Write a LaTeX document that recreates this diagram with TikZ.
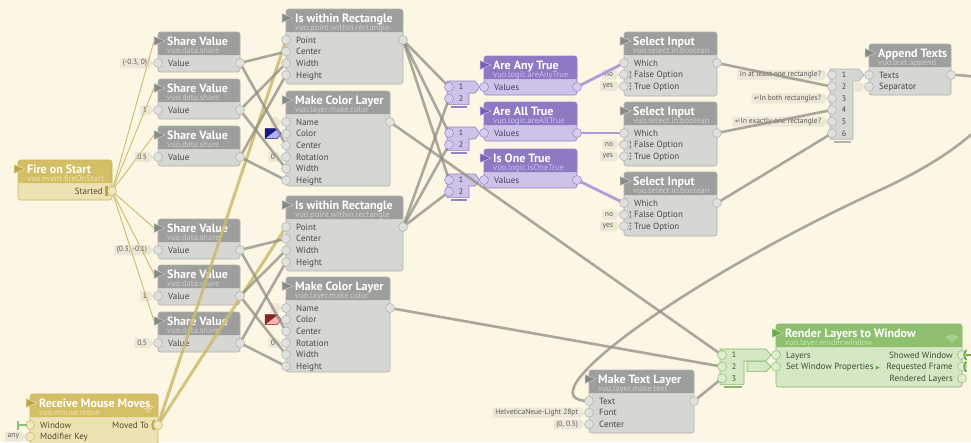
\documentclass[tikz,border=0pt]{standalone}
\usepackage{fontspec}
\setmainfont{PT Sans}
\newfontfamily\djv{DejaVu Sans}
\usetikzlibrary{shapes.symbols}
\pgfdeclarelayer{bg}
\pgfdeclarelayer{fg}
\pgfsetlayers{bg,main,fg}
\definecolor{paper}{RGB}{252,246,228}
% gray palette
\definecolor{grT}{RGB}{158,158,156}\definecolor{grB}{RGB}{214,214,211}\definecolor{grD}{RGB}{178,178,175}
\definecolor{grS}{RGB}{204,204,202}\definecolor{grR}{RGB}{136,136,134}\definecolor{grP}{RGB}{224,224,222}
\definecolor{grQ}{RGB}{176,176,174}\definecolor{grL}{RGB}{72,72,70}
% gold palette
\definecolor{goT}{RGB}{212,191,102}\definecolor{goB}{RGB}{237,227,178}\definecolor{goD}{RGB}{200,180,95}
\definecolor{goS}{RGB}{240,228,172}\definecolor{goR}{RGB}{188,166,74}\definecolor{goP}{RGB}{240,232,190}
\definecolor{goQ}{RGB}{200,180,100}\definecolor{goL}{RGB}{80,74,50}
% purple palette
\definecolor{puT}{RGB}{142,121,195}\definecolor{puB}{RGB}{205,195,232}\definecolor{puD}{RGB}{150,130,200}
\definecolor{puS}{RGB}{204,192,240}\definecolor{puR}{RGB}{118,96,180}\definecolor{puP}{RGB}{214,204,240}
\definecolor{puQ}{RGB}{150,132,200}\definecolor{puL}{RGB}{70,60,100}
% green palette
\definecolor{gnT}{RGB}{142,192,112}\definecolor{gnB}{RGB}{212,232,198}\definecolor{gnD}{RGB}{134,184,102}
\definecolor{gnS}{RGB}{200,228,180}\definecolor{gnR}{RGB}{108,168,78}\definecolor{gnP}{RGB}{222,238,208}
\definecolor{gnQ}{RGB}{140,190,110}\definecolor{gnL}{RGB}{60,80,50}
% wires and constants
\definecolor{vwire}{RGB}{145,142,128}
\definecolor{vpwire}{RGB}{176,156,216}
\definecolor{vgwire}{RGB}{204,188,108}
\definecolor{cfill}{RGB}{236,231,214}
\definecolor{ctext}{RGB}{92,92,88}

\tikzset{
  wire/.style={draw=vwire, line width=2.6pt, draw opacity=0.75},
  pwire/.style={draw=vpwire, line width=2.8pt},
  gwire/.style={draw=vgwire, line width=3pt, draw opacity=0.85},
  twire/.style={draw=vgwire, line width=0.9pt},
  cstbox/.style={signal, signal to=east, signal pointer angle=100, fill=cfill,
     text=ctext, font=\fontsize{7.5}{8}\selectfont, inner xsep=2.5pt, inner ysep=1.2pt,
     minimum height=10pt},
}

% node body: name, x, y, w, h, palette, title, subtitle
\newcommand{\vbody}[8]{%
\begin{pgfonlayer}{bg}
\begin{scope}[shift={(#2,#3)}]
\fill[#6B, rounded corners=2.5pt] (0,0) rectangle (#4,#5);
\fill[#6T, rounded corners=2.5pt] (0,0) rectangle (#4,23);
\fill[#6T] (0,12) rectangle (#4,23);
\draw[#6D, line width=0.6pt, rounded corners=2.5pt] (0,0) rectangle (#4,#5);
\node[inner sep=0, minimum width=#4pt, minimum height=#5pt, anchor=north west] (#1) at (0,0) {};
\node[anchor=base west, inner sep=0, text=white, font=\bfseries\fontsize{12}{12}\selectfont] (#1-title) at (9,13) {#7};
\node[anchor=base west, inner sep=0, text=#6S, font=\fontsize{8.5}{8.5}\selectfont] (#1-sub) at (9,21) {#8};
\fill[#6R, draw=#6S, line width=0.5pt] (-4,4.5) -- (7,9) -- (-4,13.5) -- cycle;
\coordinate (#1-trig) at (-4,9);
\end{scope}
\end{pgfonlayer}}

% input port: [palette] name, x, y, label
\newcommand{\inp}[5][gr]{%
\coordinate (#2) at (#3,#4);
\begin{pgfonlayer}{bg}\node[anchor=base west, inner sep=0, text=#1L] (#2-lbl) at (#3+10,#4+3.2) {#5};\end{pgfonlayer}
\begin{pgfonlayer}{fg}\fill[#1P, draw=#1Q, line width=0.5pt] (#3,#4) circle[radius=4.5pt];\end{pgfonlayer}}

% output port
\newcommand{\outp}[5][gr]{%
\coordinate (#2) at (#3,#4);
\begin{pgfonlayer}{bg}\node[anchor=base east, inner sep=0, text=#1L] (#2-lbl) at (#3-9,#4+3.2) {#5};\end{pgfonlayer}
\begin{pgfonlayer}{fg}\fill[#1P, draw=#1Q, line width=0.5pt] (#3,#4) circle[radius=4.5pt];\end{pgfonlayer}}

% constant flag: port x, y, text
\newcommand{\cst}[3]{\begin{pgfonlayer}{bg}\node[cstbox, anchor=east] at (#1-4,#2) {#3};\end{pgfonlayer}}
\newcommand{\ecst}[2]{\begin{pgfonlayer}{bg}\node[cstbox, anchor=east, minimum width=11pt] at (#1-4,#2) {};\end{pgfonlayer}}

% colour swatch: port x, y, dark, light
\newcommand{\swatch}[4]{\begin{pgfonlayer}{bg}
\fill[#4, draw=#3, line width=0.5pt] (#1-21,#2-5) -- (#1-9,#2-5) -- (#1-4.5,#2) -- (#1-9,#2+5) -- (#1-21,#2+5) -- cycle;
\fill[#3] (#1-21,#2-5) -- (#1-8,#2-5) -- (#1-21,#2+5) -- cycle;
\end{pgfonlayer}}

% list drawer: [palette] name, x(circle), y(item 1), n, right edge, tip
\newcommand{\drawer}[7][pu]{%
\pgfmathsetmacro\yb{#4+(#5-1)*11.65+6}
\begin{pgfonlayer}{bg}
\fill[#1B, draw=#1D, line width=0.6pt] (#3-2,#4-6) -- (#7-5,#4-6) -- (#7,#4) -- (#7-5,#4+6) -- (#6,#4+6) -- (#6,\yb) -- (#3-2,\yb) -- cycle;
\fill[#1D] (#3+2,\yb+1.5) rectangle (#6-2,\yb+3.5);
\foreach \i in {1,...,#5}{\node[font=\fontsize{8}{8}\selectfont, text=#1L, inner sep=0] at (#3+12,#4+\i*11.65-11.65) {\i};}
\end{pgfonlayer}
\begin{pgfonlayer}{fg}
\foreach \i in {1,...,#5}{\fill[#1P, draw=#1Q, line width=0.5pt] (#3,#4+\i*11.65-11.65) circle[radius=4.5pt];
\coordinate (#2-\i) at (#3,#4+\i*11.65-11.65);}
\end{pgfonlayer}}

% wifi icon
\newcommand{\wifi}[3]{\begin{pgfonlayer}{bg}
\foreach \r in {3,5.5,8}{\draw[#3, line width=0.8pt] (#1-0.7*\r,#2-0.55*\r) .. controls (#1-0.3*\r,#2-0.85*\r) and (#1+0.3*\r,#2-0.85*\r) .. (#1+0.7*\r,#2-0.55*\r);}
\fill[#3] (#1,#2) circle[radius=0.9pt];
\end{pgfonlayer}}

\begin{document}
\begin{tikzpicture}[x=1pt,y=-1pt,font=\fontsize{9}{9}\selectfont]
\useasboundingbox (0,0) rectangle (971,442);
\begin{pgfonlayer}{bg}\fill[paper] (0,0) rectangle (971,442);\end{pgfonlayer}

% ---------- Fire on Start
\vbody{fos}{18}{160}{94}{40}{go}{Fire on Start}{vuo.event.fireOnStart}
\outp[go]{fos-started}{112}{191}{Started}
\begin{pgfonlayer}{fg}\fill[goR] (105,186) rectangle (108,196);\end{pgfonlayer}

% ---------- Share Values
\vbody{sv1}{158}{32}{82}{40}{gr}{Share Value}{vuo.data.share}
\inp{sv1-in}{158}{63}{Value}\outp{sv1-out}{240}{63}{}\cst{158}{63}{(-0.3, 0)}
\vbody{sv2}{158}{79}{82}{40}{gr}{Share Value}{vuo.data.share}
\inp{sv2-in}{158}{110}{Value}\outp{sv2-out}{240}{110}{}\cst{158}{110}{1}
\vbody{sv3}{158}{126}{82}{40}{gr}{Share Value}{vuo.data.share}
\inp{sv3-in}{158}{157}{Value}\outp{sv3-out}{240}{157}{}\cst{158}{157}{0.5}
\vbody{sv4}{158}{219}{82}{40}{gr}{Share Value}{vuo.data.share}
\inp{sv4-in}{158}{250}{Value}\outp{sv4-out}{240}{250}{}\cst{158}{250}{(0.3, -0.1)}
\vbody{sv5}{158}{265}{82}{40}{gr}{Share Value}{vuo.data.share}
\inp{sv5-in}{158}{296}{Value}\outp{sv5-out}{240}{296}{}\cst{158}{296}{1}
\vbody{sv6}{158}{312}{82}{40}{gr}{Share Value}{vuo.data.share}
\inp{sv6-in}{158}{343}{Value}\outp{sv6-out}{240}{343}{}\cst{158}{343}{0.5}

% ---------- Is within Rectangle / Make Color Layer (1)
\vbody{iwr1}{286}{9}{117}{75}{gr}{Is within Rectangle}{vuo.point.within.rectangle}
\inp{iwr1-point}{286}{40}{Point}\inp{iwr1-center}{286}{51.65}{Center}
\inp{iwr1-width}{286}{63.3}{Width}\inp{iwr1-height}{286}{74.95}{Height}
\outp{iwr1-out}{403}{40}{}
\vbody{mcl1}{286}{91}{104}{95}{gr}{Make Color Layer}{vuo.layer.make.color}
\inp{mcl1-name}{286}{122}{Name}\inp{mcl1-color}{286}{133.65}{Color}
\inp{mcl1-center}{286}{145.3}{Center}\inp{mcl1-rot}{286}{156.95}{Rotation}
\inp{mcl1-width}{286}{168.6}{Width}\inp{mcl1-height}{286}{180.25}{Height}
\outp{mcl1-out}{390}{122}{}
\ecst{286}{122}\swatch{286}{133.65}{blue!45!black!90}{blue!30!white}\cst{286}{156.95}{0}

% ---------- Is within Rectangle / Make Color Layer (2)
\vbody{iwr2}{286}{196}{117}{75}{gr}{Is within Rectangle}{vuo.point.within.rectangle}
\inp{iwr2-point}{286}{227}{Point}\inp{iwr2-center}{286}{238.65}{Center}
\inp{iwr2-width}{286}{250.3}{Width}\inp{iwr2-height}{286}{261.95}{Height}
\outp{iwr2-out}{403}{227}{}
\vbody{mcl2}{286}{277}{104}{95}{gr}{Make Color Layer}{vuo.layer.make.color}
\inp{mcl2-name}{286}{308}{Name}\inp{mcl2-color}{286}{319.65}{Color}
\inp{mcl2-center}{286}{331.3}{Center}\inp{mcl2-rot}{286}{342.95}{Rotation}
\inp{mcl2-width}{286}{354.6}{Width}\inp{mcl2-height}{286}{366.25}{Height}
\outp{mcl2-out}{390}{308}{}
\ecst{286}{308}\swatch{286}{319.65}{red!45!black!85}{red!30!white}\cst{286}{342.95}{0}

% ---------- logic
\drawer{l1}{449}{87}{2}{469}{480}
\drawer{l2}{449}{133}{2}{469}{480}
\drawer{l3}{449}{180}{2}{469}{480}
\vbody{any}{484}{56}{93}{39}{pu}{Are Any True}{vuo.logic.areAnyTrue}
\inp[pu]{any-in}{484}{87}{Values}\outp[pu]{any-out}{577}{87}{}
\vbody{all}{484}{102}{93}{39}{pu}{Are All True}{vuo.logic.areAllTrue}
\inp[pu]{all-in}{484}{133}{Values}\outp[pu]{all-out}{577}{133}{}
\vbody{one}{484}{149}{93}{39}{pu}{Is One True}{vuo.logic.isOneTrue}
\inp[pu]{one-in}{484}{180}{Values}\outp[pu]{one-out}{577}{180}{}

% ---------- Select Input
\vbody{sel1}{624}{32}{93}{64}{gr}{Select Input}{vuo.select.in.boolean}
\inp{sel1-which}{624}{63}{Which}\inp{sel1-f}{624}{74.65}{False Option}\inp{sel1-t}{624}{86.3}{True Option}
\outp{sel1-out}{717}{63}{}\cst{624}{74.65}{no}\cst{624}{86.3}{yes}
\vbody{sel2}{624}{102}{93}{64}{gr}{Select Input}{vuo.select.in.boolean}
\inp{sel2-which}{624}{133}{Which}\inp{sel2-f}{624}{144.65}{False Option}\inp{sel2-t}{624}{156.3}{True Option}
\outp{sel2-out}{717}{133}{}\cst{624}{144.65}{no}\cst{624}{156.3}{yes}
\vbody{sel3}{624}{172}{93}{64}{gr}{Select Input}{vuo.select.in.boolean}
\inp{sel3-which}{624}{203}{Which}\inp{sel3-f}{624}{214.65}{False Option}\inp{sel3-t}{624}{226.3}{True Option}
\outp{sel3-out}{717}{203}{}\cst{624}{214.65}{no}\cst{624}{226.3}{yes}
\begin{pgfonlayer}{fg}
\foreach \yy in {74.65,86.3,144.65,156.3,214.65,226.3}{
  \draw[grL!70, line width=0.35pt, dash pattern=on 0.8pt off 0.7pt] (630.2,\yy-3) -- (630.2,\yy+3);
  \draw[grL!70, line width=0.35pt] (629,\yy-2.4) -- (630.2,\yy-3.8) -- (631.4,\yy-2.4);
  \draw[grL!70, line width=0.35pt] (629,\yy+2.4) -- (630.2,\yy+3.8) -- (631.4,\yy+2.4);}
\end{pgfonlayer}

% ---------- Append Texts
\drawer[gr]{al}{832}{75}{6}{853}{864}
\cst{832}{75}{In at least one rectangle?}
\cst{832}{98.3}{{\djv\fontsize{6.5}{7}\selectfont ↵}In both rectangles?}
\cst{832}{121.6}{{\djv\fontsize{6.5}{7}\selectfont ↵}In exactly one rectangle?}
\vbody{at}{869}{44}{82}{51}{gr}{Append Texts}{vuo.text.append}
\inp{at-texts}{869}{75}{Texts}\inp{at-sep}{869}{86.65}{Separator}\outp{at-out}{951}{75}{}
\ecst{869}{86.65}

% ---------- Make Text Layer
\vbody{mtl}{589}{370}{105}{63}{gr}{Make Text Layer}{vuo.layer.make.text}
\inp{mtl-text}{589}{401}{Text}\inp{mtl-font}{589}{412.65}{Font}\inp{mtl-center}{589}{424.3}{Center}
\outp{mtl-out}{694}{401}{}
\cst{589}{412.65}{HelveticaNeue-Light 28pt}\cst{589}{424.3}{(0, 0.5)}

% ---------- Render Layers to Window
\drawer[gn]{rl}{722}{355}{3}{744}{771}
\begin{pgfonlayer}{bg}
\fill[gnB, draw=gnD, line width=0.6pt] (747,361.65) -- (766,361.65) -- (771,366.65) -- (766,371.65) -- (747,371.65) -- cycle;
\end{pgfonlayer}
\vbody{rlw}{776}{324}{186}{63}{gn}{Render Layers to Window}{vuo.layer.render.window}
\inp[gn]{rlw-layers}{776}{355}{Layers}
\inp[gn]{rlw-swp}{776}{366.65}{Set Window Properties {\djv\fontsize{5.5}{6}\selectfont\textcolor{gnR}{▶}}}
\outp[gn]{rlw-sw}{962}{355}{Showed Window}
\outp[gn]{rlw-rf}{962}{366.65}{Requested Frame}
\outp[gn]{rlw-rl}{962}{378.3}{Rendered Layers}
\wifi{952}{342}{gnS}
\begin{pgfonlayer}{fg}
\draw[gnR, line width=1.8pt] (966.5,350) .. controls (963.5,352) and (963.5,358) .. (966.5,360);
\draw[gnR, line width=1.8pt] (966.5,361.65) .. controls (963.5,363.65) and (963.5,369.65) .. (966.5,371.65);
\draw[gnR, line width=2pt] (966,355) -- (975,355);
\end{pgfonlayer}

% ---------- Receive Mouse Moves
\vbody{rmm}{30}{394}{128}{56}{go}{Receive Mouse Moves}{vuo.mouse.move}
\inp[go]{rmm-win}{30}{425}{Window}\inp[go]{rmm-mod}{30}{436.65}{Modifier Key}
\outp[go]{rmm-moved}{158}{425}{Moved To}
\cst{30}{436.65}{any}
\wifi{148}{412}{goS}
\begin{pgfonlayer}{fg}
\draw[goR, line width=1.8pt] (154.5,420) .. controls (151.5,422) and (151.5,428) .. (154.5,430);
\draw[gnT, line width=2.2pt] (18,420.5) -- (18,429.5);
\draw[gnT, line width=2pt] (18,425) -- (27,425);
\end{pgfonlayer}

% ================= connectors
\foreach \s in {sv1,sv2,sv3,sv4,sv5,sv6}{\draw[twire] (fos-started) -- (\s-trig);}
\draw[gwire] (rmm-moved) -- (iwr1-point);
\draw[gwire] (rmm-moved) -- (iwr2-point);

\draw[wire] (sv1-out) -- (iwr1-center);
\draw[wire] (sv1-out) -- (mcl1-center);
\draw[wire] (sv2-out) -- (iwr1-width);
\draw[wire] (sv2-out) -- (mcl1-width);
\draw[wire] (sv3-out) -- (iwr1-height);
\draw[wire] (sv3-out) -- (mcl1-height);
\draw[wire] (sv4-out) -- (iwr2-center);
\draw[wire] (sv4-out) -- (mcl2-center);
\draw[wire] (sv5-out) -- (iwr2-width);
\draw[wire] (sv5-out) -- (mcl2-width);
\draw[wire] (sv6-out) -- (iwr2-height);
\draw[wire] (sv6-out) -- (mcl2-height);

\draw[wire] (iwr1-out) -- (l1-1);
\draw[wire] (iwr1-out) -- (l2-1);
\draw[wire] (iwr1-out) -- (l3-1);
\draw[wire] (iwr2-out) -- (l1-2);
\draw[wire] (iwr2-out) -- (l2-2);
\draw[wire] (iwr2-out) -- (l3-2);

\draw[pwire] (any-out) -- (sel1-which);
\draw[pwire] (all-out) -- (sel2-which);
\draw[pwire] (one-out) -- (sel3-which);

\draw[wire] (sel1-out) -- (al-2);
\draw[wire] (sel2-out) -- (al-4);
\draw[wire] (sel3-out) -- (al-6);

\draw[wire] (at-out) .. controls (1040,75) and (990,140) .. (880,190)
   .. controls (680,282) and (520,401) .. (mtl-text);

\draw[wire] (mcl1-out) -- (rl-1);
\draw[wire] (mcl2-out) -- (rl-2);
\draw[wire] (mtl-out) -- (rl-3);
\end{tikzpicture}
\end{document}
